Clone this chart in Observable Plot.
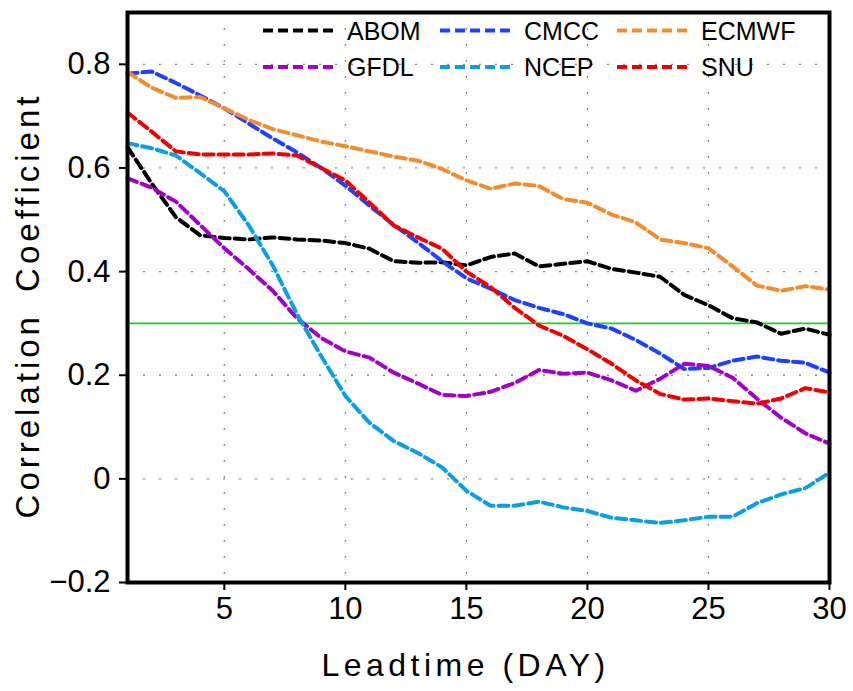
<!DOCTYPE html>
<html><head><meta charset="utf-8">
<script src="https://cdn.jsdelivr.net/npm/d3@7"></script>
<script src="https://cdn.jsdelivr.net/npm/@observablehq/plot@0.6"></script>
<style>
body{margin:0;background:#fff;}
#wrap{position:relative;width:853px;height:691px;}
#legend{position:absolute;left:0;top:0;pointer-events:none;}
</style></head><body><div id="wrap"></div>
<script>
const days = [1,2,3,4,5,6,7,8,9,10,11,12,13,14,15,16,17,18,19,20,21,22,23,24,25,26,27,28,29,30];
const models = ["ABOM","CMCC","ECMWF","GFDL","NCEP","SNU"];
const colors = ["#000000","#2040ff","#f28c2c","#a000c8","#0aa0e0","#f00000"];
const abom  = [0.64,0.57,0.505,0.47,0.465,0.462,0.466,0.462,0.46,0.455,0.444,0.42,0.417,0.418,0.412,0.428,0.435,0.41,0.415,0.42,0.405,0.398,0.39,0.355,0.335,0.31,0.302,0.28,0.29,0.278];
const cmcc  = [0.782,0.786,0.764,0.74,0.715,0.686,0.657,0.63,0.6,0.566,0.527,0.49,0.456,0.42,0.387,0.367,0.345,0.33,0.318,0.3,0.29,0.268,0.242,0.212,0.214,0.228,0.236,0.228,0.224,0.205];
const ecmwf = [0.785,0.755,0.735,0.737,0.715,0.693,0.675,0.663,0.651,0.642,0.632,0.622,0.614,0.598,0.576,0.56,0.57,0.565,0.54,0.533,0.51,0.495,0.462,0.455,0.445,0.41,0.373,0.363,0.372,0.365];
const gfdl  = [0.58,0.562,0.535,0.49,0.445,0.405,0.363,0.31,0.272,0.246,0.234,0.205,0.184,0.162,0.16,0.168,0.185,0.21,0.203,0.205,0.19,0.17,0.193,0.222,0.218,0.195,0.155,0.118,0.088,0.068];
const ncep  = [0.648,0.638,0.624,0.59,0.555,0.49,0.412,0.318,0.237,0.16,0.108,0.073,0.05,0.022,-0.023,-0.052,-0.052,-0.044,-0.055,-0.062,-0.075,-0.08,-0.085,-0.08,-0.073,-0.073,-0.047,-0.03,-0.018,0.012];
const snu   = [0.707,0.67,0.632,0.626,0.626,0.626,0.628,0.624,0.6,0.576,0.533,0.489,0.466,0.444,0.4,0.37,0.33,0.296,0.276,0.25,0.222,0.19,0.164,0.153,0.155,0.15,0.145,0.155,0.175,0.167];
const threshold = [0.3];
const xTicks = [5,10,15,20,25,30];
const yTicks = [-0.2,0,0.2,0.4,0.6,0.8];
const gridXs = [5,10,15,20,25];
const gridYs = [0,0.2,0.4,0.6,0.8];
const xLabel = "Leadtime (DAY)";
const yLabel = "Correlation Coefficient";

const seriesMap = {ABOM: abom, CMCC: cmcc, ECMWF: ecmwf, GFDL: gfdl, NCEP: ncep, SNU: snu};
const rows = models.flatMap(m => days.map((d, i) => ({model: m, day: d, r: seriesMap[m][i]})));
const fmt = v => v === 0 ? "0" : (v < 0 ? "\u2212" : "") + Math.abs(v).toFixed(1);
const FONT = "'Liberation Sans', Arial, sans-serif";
const DASH = "10,5";
const LW = 4;

const plot = Plot.plot({
  width: 853, height: 691,
  marginLeft: 127, marginRight: 24, marginTop: 12, marginBottom: 109,
  style: {fontFamily: FONT, background: "white", color: "black"},
  x: {domain: [1, 30]},
  y: {domain: [-0.2, 0.9]},
  color: {domain: models, range: colors},
  marks: [
    Plot.gridX(gridXs, {stroke: "#888", strokeOpacity: 1, strokeWidth: 1.3, strokeDasharray: "2,14"}),
    Plot.gridY(gridYs, {stroke: "#888", strokeOpacity: 1, strokeWidth: 1.3, strokeDasharray: "2,14"}),
    Plot.ruleY(threshold, {stroke: "#22cc22", strokeWidth: 1.6}),
    Plot.line(rows, {x: "day", y: "r", z: "model", stroke: "model", strokeWidth: LW, strokeDasharray: DASH, strokeLinejoin: "round"}),
    Plot.frame({stroke: "black", strokeWidth: 4}),
    Plot.axisX(xTicks, {tickSize: 8, tickPadding: 6, fontSize: 31, strokeWidth: 2, label: null, tickFormat: d => String(d)}),
    Plot.axisY(yTicks, {tickSize: 8, tickPadding: 9, fontSize: 31, strokeWidth: 2, label: null, tickFormat: fmt}),
    Plot.text([xLabel], {text: d => d, frameAnchor: "bottom", textAnchor: "middle", dx: -13, dy: 83, lineAnchor: "middle", fontSize: 32}),
    Plot.text([yLabel], {text: d => d, frameAnchor: "left", textAnchor: "middle", dx: -99, dy: 8, rotate: -90, lineAnchor: "middle", fontSize: 33})
  ]
});

d3.select(plot).selectAll("text").filter(function(){ return this.textContent === xLabel; }).attr("letter-spacing", "4.5px");
d3.select(plot).selectAll("text").filter(function(){ return this.textContent === yLabel; }).attr("letter-spacing", "4px").attr("word-spacing", "8px");

const wrap = document.getElementById("wrap");
wrap.appendChild(plot);

// Legend overlay
const legend = d3.select(wrap).append("svg").attr("id", "legend").attr("width", 853).attr("height", 691);
const colX = [263, 440, 617];
const rowY = [30.5, 67];
models.forEach((m, i) => {
  const cx = colX[i % 3], cy = rowY[Math.floor(i / 3)];
  const g = legend.append("g");
  g.append("line").attr("x1", cx).attr("x2", cx + 72).attr("y1", cy).attr("y2", cy)
    .attr("stroke", colors[i]).attr("stroke-width", LW).attr("stroke-dasharray", DASH);
  g.append("text").attr("x", cx + 84).attr("y", cy).attr("dy", "0.36em")
    .attr("font-family", FONT).attr("font-size", 25).attr("fill", "black").text(m);
});
</script>
</body></html>
